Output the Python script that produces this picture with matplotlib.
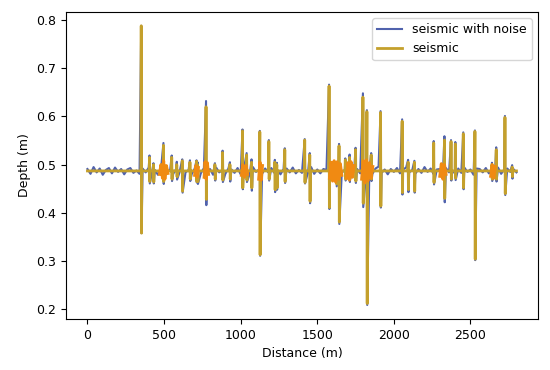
import matplotlib
matplotlib.use("Agg")
import matplotlib.pyplot as plt
import numpy as np

plt.rcParams["font.size"] = 9

baseline = 0.487

# reflection events: distance (m), peak depth, trough depth
event_dist = [352, 406, 432, 497, 551, 584, 620, 670, 713, 720, 775, 833, 883, 931,
              1013, 1040, 1072, 1126, 1185, 1224, 1237, 1289, 1419, 1452, 1578, 1626,
              1643, 1684, 1712, 1751, 1799, 1825, 1853, 1914, 2055, 2094, 2135, 2261,
              2331, 2374, 2402, 2454, 2530, 2641, 2669, 2726, 2773]
event_top = [0.788, 0.515, 0.500, 0.540, 0.515, 0.500, 0.508, 0.505, 0.507, 0.500, 0.620,
             0.500, 0.525, 0.500, 0.570, 0.520, 0.505, 0.568, 0.548, 0.505, 0.500, 0.531,
             0.551, 0.520, 0.663, 0.500, 0.539, 0.510, 0.515, 0.531, 0.640, 0.610, 0.520,
             0.608, 0.590, 0.505, 0.505, 0.545, 0.551, 0.548, 0.543, 0.564, 0.569, 0.500,
             0.531, 0.598, 0.495]
event_bot = [0.358, 0.465, 0.464, 0.465, 0.470, 0.475, 0.445, 0.470, 0.465, 0.465, 0.428,
             0.470, 0.468, 0.470, 0.452, 0.468, 0.452, 0.313, 0.470, 0.448, 0.452, 0.465,
             0.463, 0.424, 0.411, 0.460, 0.381, 0.470, 0.470, 0.466, 0.420, 0.212, 0.470,
             0.414, 0.442, 0.448, 0.445, 0.463, 0.430, 0.470, 0.472, 0.452, 0.304, 0.470,
             0.470, 0.440, 0.475]
# extra overshoot of the noisy trace at the event tips
tip_noise = [0.000, 0.004, 0.003, 0.005, 0.004, 0.006, 0.003, 0.004, 0.002, 0.005, 0.012,
             0.003, 0.004, 0.005, 0.003, 0.004, 0.006, 0.002, 0.003, 0.005, 0.004, 0.003,
             0.002, 0.004, 0.003, 0.005, 0.004, 0.003, 0.006, 0.004, 0.008, 0.003, 0.004,
             0.003, 0.004, 0.005, 0.003, 0.004, 0.008, 0.003, 0.004, 0.003, 0.002, 0.004,
             0.005, 0.003, 0.004]

# background noise of the noisy trace, every 20 m from 0 to 2800
noise_vals = [0.004, -0.006, 0.008, -0.003, 0.005, -0.008, 0.002, 0.006, -0.005, 0.007,
              -0.002, 0.004, -0.007, 0.003, 0.006, -0.004, 0.001, -0.006, 0.005, -0.003,
              0.007, -0.005, 0.002, -0.008, 0.004, 0.006, -0.002, 0.003, -0.006, 0.005,
              -0.004, 0.008, -0.003, 0.002, -0.007, 0.005, 0.003, -0.005, 0.006, -0.002,
              0.004, -0.008, 0.007, -0.003, 0.002, -0.006, 0.005, 0.003, -0.004, 0.006,
              -0.007, 0.002, 0.004, -0.005, 0.008, -0.002, 0.003, -0.006, 0.005, -0.003,
              0.006, -0.004, 0.002, -0.007, 0.004, 0.005, -0.003, 0.007, -0.005, 0.002,
              -0.004, 0.006, -0.002, 0.008, -0.006, 0.003, -0.005, 0.004, 0.002, -0.007,
              0.005, -0.003, 0.006, -0.004, 0.003, -0.008, 0.007, -0.002, 0.004, -0.005,
              0.006, -0.003, 0.002, -0.006, 0.005, 0.009, -0.004, 0.003, -0.007, 0.004,
              -0.002, 0.006, -0.005, 0.003, 0.007, -0.003, 0.002, -0.006, 0.004, -0.004,
              0.008, -0.002, 0.005, -0.007, 0.003, 0.004, -0.005, 0.006, -0.003, 0.002,
              -0.006, 0.005, -0.004, 0.007, -0.002, 0.003, -0.008, 0.005, 0.004, -0.003,
              0.006, -0.005, 0.002, -0.004, 0.007, -0.006, 0.003, 0.005, -0.002, 0.004,
              -0.003]
noise_dist = np.arange(0, 2801, 20)

# short ringing around the strongest clusters
nan = np.nan
ring_dist = [470, 480, 490, 497, 505, 515, 525, nan,
             700, 708, 716, 724, nan,
             762, 768, 775, 782, 790, nan,
             1005, 1015, 1025, 1035, 1045, nan,
             1118, 1126, 1134, 1142, nan,
             1580, 1590, 1600, 1610, 1620, 1630, 1640, 1650, 1660, nan,
             1690, 1700, 1710, 1720, 1730, 1740, nan,
             1790, 1800, 1810, 1820, 1830, 1840, 1850, 1862, nan,
             2300, 2310, 2320, 2330, 2340, nan,
             2632, 2642, 2652, 2662, nan]
ring_depth = [0.480, 0.500, 0.472, 0.508, 0.470, 0.498, 0.482, nan,
              0.478, 0.498, 0.474, 0.494, nan,
              0.474, 0.506, 0.470, 0.504, 0.480, nan,
              0.478, 0.500, 0.474, 0.498, 0.480, nan,
              0.470, 0.505, 0.468, 0.498, nan,
              0.472, 0.505, 0.466, 0.508, 0.464, 0.506, 0.470, 0.502, 0.478, nan,
              0.472, 0.504, 0.468, 0.506, 0.474, 0.498, nan,
              0.470, 0.508, 0.462, 0.510, 0.466, 0.504, 0.472, 0.496, nan,
              0.476, 0.502, 0.470, 0.500, 0.480, nan,
              0.476, 0.500, 0.472, 0.496, nan]

# clean seismic trace: flat line with a wiggle at each event
seis_x = [0]
seis_y = [baseline]
noisy_x = []
noisy_y = []
for d, top, bot, tn in zip(event_dist, event_top, event_bot, tip_noise):
    seis_x += [d - 3, d - 1, d + 1, d + 3]
    seis_y += [baseline, top, bot, baseline]
    noisy_x += [d - 1, d + 1]
    noisy_y += [top + tn, bot - tn]
seis_x.append(2800)
seis_y.append(baseline)

noisy_x = np.concatenate([noise_dist, noisy_x])
noisy_y = np.concatenate([baseline + np.array(noise_vals), noisy_y])
order = np.argsort(noisy_x, kind="stable")

fig, ax = plt.subplots(figsize=(5.5, 3.7), dpi=100)
fig.subplots_adjust(left=0.12, right=0.978, top=0.968, bottom=0.138)

ax.plot(noisy_x[order], noisy_y[order], color="#5062ad", lw=1.5, label="seismic with noise")
ax.plot(seis_x, seis_y, color="#c4a02c", lw=2.0, label="seismic")
ax.plot(ring_dist, ring_depth, color="#f08a12", lw=2.2)

ax.set_xlabel("Distance (m)")
ax.set_ylabel("Depth (m)")
ax.legend(loc="upper right")

fig.savefig("out.png", dpi=100)
